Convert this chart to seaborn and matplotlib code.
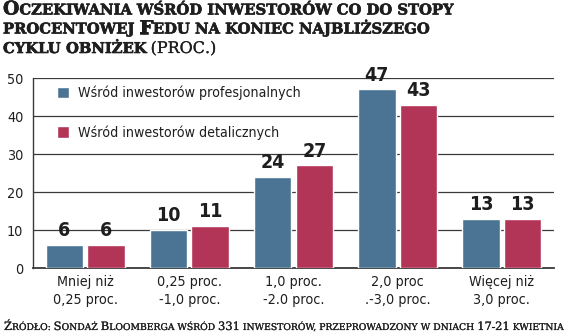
import os
import numpy as np
import pandas as pd
import matplotlib
matplotlib.use("Agg")
import matplotlib.pyplot as plt
import matplotlib.patheffects as pe
import seaborn as sns
from matplotlib import font_manager
from matplotlib.font_manager import FontProperties

categories = ["Mniej niż\n0,25 proc.", "0,25 proc.\n-1,0 proc.", "1,0 proc.\n-2.0 proc.",
              "2,0 proc\n.-3,0 proc.", "Więcej niż\n3,0 proc."]
series_names = ["Wśród inwestorów profesjonalnych", "Wśród inwestorów detalicznych"]
prof_values = [6, 10, 24, 47, 13]
retail_values = [6, 11, 27, 43, 13]
y_ticks = [0, 10, 20, 30, 40, 50]

title_lines = ["Oczekiwania wśród inwestorów co do stopy",
               "procentowej Fedu na koniec najbliższego",
               "cyklu obniżek"]
title_suffix = "(PROC.)"
source_text = "Źródło: Sondaż Bloomberga wśród 331 inwestorów, przeprowadzony w dniach 17-21 kwietnia"

BLUE = "#4b7494"
RED = "#b23456"
TXT = "#1e1e1e"

names = {f.name for f in font_manager.fontManager.ttflist}
if "Liberation Sans Narrow" in names:
    COND = "Liberation Sans Narrow"
    CSTRETCH = "normal"
else:
    COND = "DejaVu Sans"
    CSTRETCH = "condensed"

ttf_dir = os.path.join(matplotlib.get_data_path(), "fonts", "ttf")


def serif_prop(weight, size):
    fn = os.path.join(ttf_dir, "DejaVuSerif-Bold.ttf" if weight == "bold" else "DejaVuSerif.ttf")
    if os.path.exists(fn):
        return FontProperties(fname=fn, size=size)
    return FontProperties(family="DejaVu Serif", weight=weight, size=size)


sns.set_theme(style="white")
plt.rcParams["font.family"] = [COND, "DejaVu Sans"]

df = pd.DataFrame({
    "cat": categories * 2,
    "series": [series_names[0]] * len(categories) + [series_names[1]] * len(categories),
    "val": prof_values + retail_values,
})

W, H = 564, 334
fig = plt.figure(figsize=(W / 100, H / 100), dpi=100)
ax = fig.add_axes([33 / W, (H - 268) / H, (554 - 33) / W, (268 - 78) / H])

sns.barplot(data=df, x="cat", y="val", hue="series", palette=[BLUE, RED],
            width=0.8, gap=0.1, saturation=1, ax=ax, zorder=3)

ax.set_ylim(0, 50)
ax.set_xlim(-0.5, len(categories) - 0.5)
ax.set_yticks(y_ticks)
ax.set_xlabel("")
ax.set_ylabel("")
ax.yaxis.grid(True, color="#3a3a3a", linewidth=0.9, zorder=0)
ax.set_axisbelow(True)
for s in ["top", "right"]:
    ax.spines[s].set_visible(False)
ax.spines["left"].set_color("#3a3a3a")
ax.spines["left"].set_linewidth(1.0)
ax.spines["bottom"].set_color("#3a3a3a")
ax.spines["bottom"].set_linewidth(1.3)
ax.tick_params(axis="both", length=0, colors=TXT)
ax.tick_params(axis="y", pad=7)
ax.tick_params(axis="x", pad=5)
for lab in ax.get_yticklabels() + ax.get_xticklabels():
    lab.set_fontsize(10.3)
    lab.set_fontfamily([COND, "DejaVu Sans"])
    lab.set_fontstretch(CSTRETCH)
    lab.set_color(TXT)
for lab in ax.get_xticklabels():
    lab.set_linespacing(1.35)

for cont in ax.containers:
    ax.bar_label(cont, fmt="%d", padding=3.5, fontsize=14, fontweight="bold",
                 family=[COND, "DejaVu Sans"], fontstretch=CSTRETCH, color=TXT)

sns.move_legend(ax, loc="upper left", bbox_to_anchor=(57 / W, (H - 86) / H),
                bbox_transform=fig.transFigure, frameon=False, title=None,
                handlelength=0.85, handleheight=0.85, handletextpad=0.65,
                labelspacing=1.75, borderpad=0, borderaxespad=0,
                prop={"family": [COND, "DejaVu Sans"], "stretch": CSTRETCH, "size": 10.2})
for t in ax.get_legend().get_texts():
    t.set_color(TXT)

renderer = fig.canvas.get_renderer()


def text_width(s, size, weight):
    t = fig.text(0, 0, s, fontproperties=serif_prop(weight, size))
    w = t.get_window_extent(renderer).width
    t.remove()
    return w


def small_caps(x_px, base_px, s, big, small, weight, color=TXT, digits_big=True, stroke=0.0):
    runs = []
    for ch in s:
        if ch == " ":
            kind = "sp"
        elif ch.isupper() or (digits_big and ch.isdigit()):
            kind = "big"
        else:
            kind = "small"
        if runs and runs[-1][0] == kind:
            runs[-1][1] += ch
        else:
            runs.append([kind, ch])
    x = x_px
    sp_w = text_width("X X", small, weight) - text_width("XX", small, weight)
    arts = []
    for kind, txt in runs:
        if kind == "sp":
            x += sp_w * len(txt)
            continue
        size = big if kind == "big" else small
        t = fig.text(x / W, (H - base_px) / H, txt.upper(),
                     fontproperties=serif_prop(weight, size), color=color,
                     ha="left", va="baseline")
        x += t.get_window_extent(renderer).width
        if stroke > 0:
            t.set_path_effects([pe.withStroke(linewidth=stroke, foreground=color)])
        arts.append(t)
    return x, arts


def fitted(x0, base, s, big, small, weight, target_end):
    xe, arts = small_caps(x0, base, s, big, small, weight)
    for a in arts:
        a.remove()
    k = (target_end - x0) / (xe - x0)
    return big * k, small * k


# title
tb, ts = fitted(3, 14.5, title_lines[0], 13.5, 10.6, "bold", 455)
baselines = [14.5, 33.5, 53]
for i, line in enumerate(title_lines):
    xe, _ = small_caps(3, baselines[i], line, tb, ts, "bold", stroke=0.45)
small_caps(xe + 4, baselines[2], title_suffix, ts * 1.08, ts * 1.08, "normal", stroke=0.15)

# source
fb, fs = fitted(4, 330, source_text, 7.9, 6.35, "normal", 558)
small_caps(4, 330, source_text, fb, fs, "normal", stroke=0.15)

fig.savefig("out.png", dpi=100)
